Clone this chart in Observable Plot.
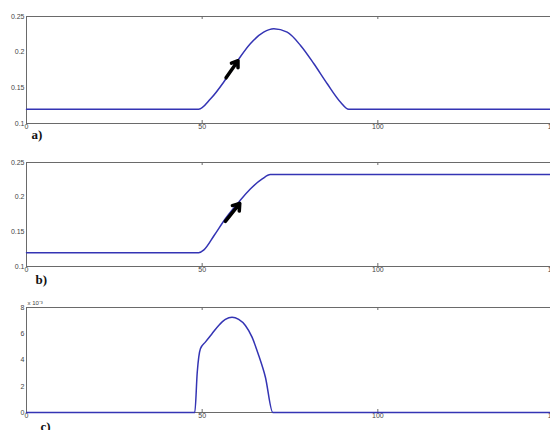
<!DOCTYPE html>
<html>
<head>
<meta charset="utf-8">
<script src="https://cdn.jsdelivr.net/npm/d3@7"></script>
<script src="https://cdn.jsdelivr.net/npm/@observablehq/plot@0.6"></script>
<style>
  html, body { margin: 0; padding: 0; background: #fff; overflow: hidden; width: 550px; height: 430px; }
  #chart > div, #chart svg { display: block; }
</style>
</head>
<body>
<div id="chart"></div>
<script>
// ---- data ----
const xTicks = [0, 50, 100, 150];

// panel a) bump
const aX = [0, 49, 52.4, 56.1, 60.0, 63.7, 67.5, 70.4, 74.2, 78.0, 81.8, 85.6, 89.4, 91.7, 150];
const aY = [0.12, 0.12, 0.1346, 0.1579, 0.1874, 0.2118, 0.228, 0.2328, 0.228, 0.2094, 0.1837, 0.1557, 0.1299, 0.12, 0.12];
const aYTicks = [0.1, 0.15, 0.2, 0.25];
const aArrow = [{x1: 56.8, y1: 0.164, x2: 60.2, y2: 0.188}];

// panel b) step
const bX = [0, 49.0, 50.5, 53.4, 56.6, 60.4, 63.7, 67.1, 69.4, 150];
const bY = [0.12, 0.12, 0.124, 0.1447, 0.1688, 0.1928, 0.2118, 0.2263, 0.2327, 0.2327];
const bYTicks = [0.1, 0.15, 0.2, 0.25];
const bArrow = [{x1: 56.6, y1: 0.165, x2: 60.7, y2: 0.191}];

// panel c) rate (x 10^-3)
const cX = [0, 47.9, 48.6, 49.5, 50.9, 52.8, 54.7, 56.6, 58.5, 60.4, 62.3, 64.2, 66.1, 68.0, 70.1, 150];
const cY = [0, 0, 3.07e-3, 4.85e-3, 5.36e-3, 6.0e-3, 6.63e-3, 7.09e-3, 7.26e-3, 7.09e-3, 6.63e-3, 5.74e-3, 4.34e-3, 2.69e-3, 0, 0];
const cYTicks = [0, 0.002, 0.004, 0.006, 0.008];

const labels = ["a)", "b)", "c)"];

// ---- drawing ----
const lineColor = "#3434b4";
const axisColor = "#6a6a6a";
const tickText = "#444";

function panel({X, Y, yDomain, yTicks, yFmt, height, marginTop, marginBottom, arrow, label, labelDx, labelDy, exponent}) {
  const data = X.map((x, i) => ({x, y: Y[i]}));
  const plotH = height - marginTop - marginBottom;
  const marks = [
    Plot.frame({stroke: axisColor, strokeWidth: 1}),
    // inward ticks (bottom/top, left/right)
    Plot.tickX(xTicks, {x: d => d, stroke: axisColor, insetTop: plotH - 3}),
    Plot.tickX(xTicks, {x: d => d, stroke: axisColor, insetBottom: plotH - 3}),
    Plot.tickY(yTicks, {y: d => d, stroke: axisColor, insetRight: 524}),
    Plot.tickY(yTicks, {y: d => d, stroke: axisColor, insetLeft: 524}),
    Plot.axisX({ticks: xTicks, tickSize: 0, tickPadding: 1, fontSize: 7, fill: tickText, label: null, tickFormat: d => String(d)}),
    Plot.axisY({ticks: yTicks, tickSize: 0, tickPadding: 2, fontSize: 7, fill: tickText, label: null, tickFormat: yFmt}),
    Plot.line(data, {x: "x", y: "y", stroke: lineColor, strokeWidth: 1.5, curve: "monotone-x"}),
    Plot.text([label], {frameAnchor: "bottom-left", text: d => d, dx: labelDx, dy: labelDy, textAnchor: "start", lineAnchor: "bottom", fontFamily: "Liberation Serif, serif", fontWeight: "bold", fontSize: 13, fill: "#111"})
  ];
  if (arrow) {
    marks.push(Plot.arrow(arrow, {x1: "x1", y1: "y1", x2: "x2", y2: "y2", stroke: "#000", strokeWidth: 3.5, headLength: 9, headAngle: 70}));
  }
  if (exponent) {
    marks.push(Plot.text([exponent], {frameAnchor: "top-left", text: d => d, dx: 1, dy: -3, textAnchor: "start", lineAnchor: "bottom", fontSize: 6, fill: tickText}));
  }
  return Plot.plot({
    width: 550,
    height,
    marginLeft: 26,
    marginRight: 0,
    marginTop,
    marginBottom,
    style: {fontFamily: "Liberation Sans, Arial, sans-serif", background: "#fff"},
    x: {domain: [0, 150], range: [26, 553], axis: null, label: null},
    y: {domain: yDomain, axis: null, label: null},
    marks
  });
}

const chart = document.getElementById("chart");
chart.append(panel({X: aX, Y: aY, yDomain: [0.1, 0.25], yTicks: aYTicks, yFmt: d => String(d),
  height: 145, marginTop: 16, marginBottom: 22, arrow: aArrow, label: labels[0], labelDx: 5, labelDy: 15}));
chart.append(panel({X: bX, Y: bY, yDomain: [0.1, 0.25], yTicks: bYTicks, yFmt: d => String(d),
  height: 145, marginTop: 17, marginBottom: 24, arrow: bArrow, label: labels[1], labelDx: 9, labelDy: 17}));
chart.append(panel({X: cX, Y: cY, yDomain: [0, 0.008], yTicks: cYTicks, yFmt: d => String(Math.round(d * 1000)),
  height: 140, marginTop: 17, marginBottom: 18, arrow: null, label: labels[2], labelDx: 14, labelDy: 18, exponent: "x 10⁻³"}));
</script>
</body>
</html>
